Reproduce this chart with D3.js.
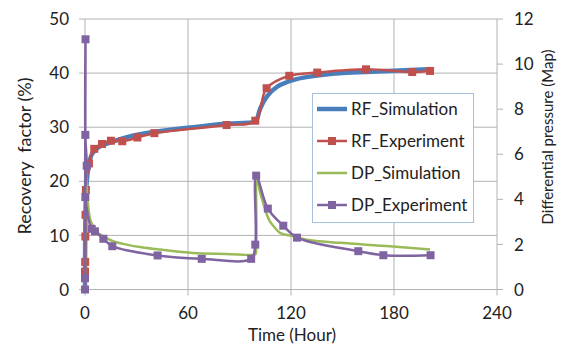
<!DOCTYPE html>
<html>
<head>
<meta charset="utf-8">
<script src="https://cdn.jsdelivr.net/npm/d3@7"></script>
<style>
  body { margin: 0; background: #fff; }
  svg { font-family: Lato, "Open Sans", sans-serif; }
</style>
</head>
<body>
<svg id="chart" width="561" height="349"></svg>
<script>
"use strict";

// RF_Simulation (recovery factor, %)
var rfSimTime  = [0, 0.3, 1, 2, 4, 8, 15, 25, 40, 60, 80, 99, 100, 102, 106, 112, 121, 130, 150, 170, 200];
var rfSimValue = [0, 14, 20, 22.5, 25, 26.3, 27.2, 28.2, 29.1, 29.9, 30.6, 31, 31.3, 33.4, 35.7, 37.5, 38.7, 39.3, 40, 40.3, 40.7];

// RF_Experiment
var rfExpTime  = [0, 0.1, 0.2, 0.3, 0.5, 2.3, 5.4, 9.9, 15.1, 21.7, 30.5, 40.4, 82.5, 99.2, 105.8, 119, 135.3, 163.7, 190.6, 201];
var rfExpValue = [3.3, 5.1, 9.8, 13.8, 18.4, 23.3, 26, 26.9, 27.5, 27.4, 28.1, 28.9, 30.4, 31.2, 37.2, 39.5, 40.1, 40.7, 40.2, 40.4];

// DP_Simulation (differential pressure)
var dpSimTime  = [0, 0.3, 1, 2, 3, 4.8, 7, 10.7, 16, 24.3, 33, 43.7, 63, 82.5, 99, 99.5, 100, 102, 103.8, 105.8, 107.7, 110.5, 113.6, 121.3, 129, 148.5, 177.6, 201];
var dpSimValue = [0, 6, 4.6, 3.6, 3.1, 2.8, 2.55, 2.36, 2.15, 1.99, 1.87, 1.77, 1.62, 1.58, 1.55, 1.6, 5.1, 4.3, 3.84, 3.35, 3.02, 2.75, 2.51, 2.36, 2.21, 2.07, 1.92, 1.77];

// DP_Experiment
var dpExpTime  = [0, 0, 0.3, 0.2, 1, 0.2, 3.9, 5.8, 10.7, 15.9, 42.3, 68, 96.8, 99.2, 99.7, 106.5, 115.5, 123.5, 159.2, 173.8, 201.3];
var dpExpValue = [0, 0.5, 11.1, 6.86, 5.49, 4.1, 2.69, 2.58, 2.25, 1.92, 1.51, 1.36, 1.36, 1.99, 5.05, 3.59, 2.83, 2.3, 1.7, 1.52, 1.52];

var xTicks = [0, 60, 120, 180, 240];
var yLeftTicks = [0, 10, 20, 30, 40, 50];
var yRightTicks = [0, 2, 4, 6, 8, 10, 12];
var seriesNames = ["RF_Simulation", "RF_Experiment", "DP_Simulation", "DP_Experiment"];

var svg = d3.select("#chart");
var plot = { left: 85, right: 497, top: 19, bottom: 289.5 };

var x = d3.scaleLinear().domain([0, 240]).range([plot.left, plot.right]);
var yL = d3.scaleLinear().domain([0, 50]).range([plot.bottom, plot.top]);
var yR = d3.scaleLinear().domain([0, 12]).range([plot.bottom, plot.top]);

var grid = "#b2b2b2";
var textColor = "#222";

// horizontal gridlines (left axis) with outer tick
svg.append("g").selectAll("line").data(yLeftTicks).enter().append("line")
	.attr("x1", plot.left - 6).attr("x2", plot.right)
	.attr("y1", function(d) { return yL(d); }).attr("y2", function(d) { return yL(d); })
	.attr("stroke", grid).attr("stroke-width", 1);

// vertical gridlines
svg.append("g").selectAll("line").data(xTicks).enter().append("line")
	.attr("x1", function(d) { return x(d); }).attr("x2", function(d) { return x(d); })
	.attr("y1", plot.top).attr("y2", plot.bottom + 6)
	.attr("stroke", grid).attr("stroke-width", 1);

// right axis ticks
svg.append("g").selectAll("line").data(yRightTicks).enter().append("line")
	.attr("x1", plot.right).attr("x2", plot.right + 6)
	.attr("y1", function(d) { return yR(d); }).attr("y2", function(d) { return yR(d); })
	.attr("stroke", grid).attr("stroke-width", 1);

// tick labels
svg.append("g").selectAll("text").data(yLeftTicks).enter().append("text")
	.attr("x", 69).attr("y", function(d) { return yL(d); })
	.attr("dy", "0.36em").attr("text-anchor", "end")
	.attr("font-size", 17).attr("fill", textColor)
	.text(function(d) { return d; });

svg.append("g").selectAll("text").data(yRightTicks).enter().append("text")
	.attr("x", 514).attr("y", function(d) { return yR(d); })
	.attr("dy", "0.36em").attr("text-anchor", "start")
	.attr("font-size", 17).attr("fill", textColor)
	.text(function(d) { return d; });

svg.append("g").selectAll("text").data(xTicks).enter().append("text")
	.attr("x", function(d) { return x(d); }).attr("y", 313)
	.attr("dy", "0.36em").attr("text-anchor", "middle")
	.attr("font-size", 17).attr("fill", textColor)
	.text(function(d) { return d; });

// axis titles
svg.append("text")
	.attr("x", 292).attr("y", 335).attr("dy", "0.36em")
	.attr("text-anchor", "middle").attr("font-size", 17).attr("fill", textColor)
	.text("Time (Hour)");

svg.append("text")
	.attr("transform", "translate(25,156) rotate(-90)")
	.attr("dy", "0.36em").attr("text-anchor", "middle")
	.attr("font-size", 18).attr("fill", textColor)
	.style("white-space", "pre")
	.text("Recovery  factor (%)");

svg.append("text")
	.attr("transform", "translate(548,137) rotate(-90)")
	.attr("dy", "0.36em").attr("text-anchor", "middle")
	.attr("font-size", 15).attr("fill", textColor)
	.text("Differential pressure (Map)");

// series
function pts(ts, vs) {
	return ts.map(function(t, i) { return [t, vs[i]]; });
}

var lineL = d3.line()
	.x(function(d) { return x(d[0]); }).y(function(d) { return yL(d[1]); })
	.curve(d3.curveCatmullRom.alpha(0.5));
var lineR = d3.line()
	.x(function(d) { return x(d[0]); }).y(function(d) { return yR(d[1]); })
	.curve(d3.curveCatmullRom.alpha(0.5));

var series = [
	{ name: seriesNames[0], data: pts(rfSimTime, rfSimValue), line: lineL, y: yL, color: "#4a7ebb", width: 4.5, marker: false },
	{ name: seriesNames[1], data: pts(rfExpTime, rfExpValue), line: lineL, y: yL, color: "#c0504d", width: 2.5, marker: true },
	{ name: seriesNames[2], data: pts(dpSimTime, dpSimValue), line: lineR, y: yR, color: "#9bbb59", width: 2.5, marker: false },
	{ name: seriesNames[3], data: pts(dpExpTime, dpExpValue), line: lineR, y: yR, color: "#8064a2", width: 2.5, marker: true }
];

var msize = 8;
series.forEach(function(s) {
	var g = svg.append("g");
	g.append("path")
		.attr("d", s.line(s.data))
		.attr("fill", "none").attr("stroke", s.color)
		.attr("stroke-width", s.width).attr("stroke-linejoin", "round");
	if (s.marker) {
		g.selectAll("rect").data(s.data).enter().append("rect")
			.attr("x", function(d) { return x(d[0]) - msize / 2; })
			.attr("y", function(d) { return s.y(d[1]) - msize / 2; })
			.attr("width", msize).attr("height", msize)
			.attr("fill", s.color);
	}
});

// legend
var legend = svg.append("g").attr("transform", "translate(312,93)");
legend.append("rect")
	.attr("x", 0.5).attr("y", 0.5).attr("width", 161).attr("height", 129)
	.attr("fill", "#fff").attr("stroke", "#a7bfde").attr("stroke-width", 1);

var item = legend.selectAll("g.item").data(series).enter().append("g")
	.attr("class", "item")
	.attr("transform", function(d, i) { return "translate(0," + (16 + i * 32) + ")"; });

item.append("line")
	.attr("x1", 5).attr("x2", 35).attr("y1", 0).attr("y2", 0)
	.attr("stroke", function(d) { return d.color; })
	.attr("stroke-width", function(d) { return d.width; });

item.filter(function(d) { return d.marker; }).append("rect")
	.attr("x", 20 - msize / 2).attr("y", -msize / 2)
	.attr("width", msize).attr("height", msize)
	.attr("fill", function(d) { return d.color; });

item.append("text")
	.attr("x", 39).attr("y", 0).attr("dy", "0.36em")
	.attr("font-size", 17).attr("fill", textColor)
	.text(function(d) { return d.name; });
</script>
</body>
</html>
